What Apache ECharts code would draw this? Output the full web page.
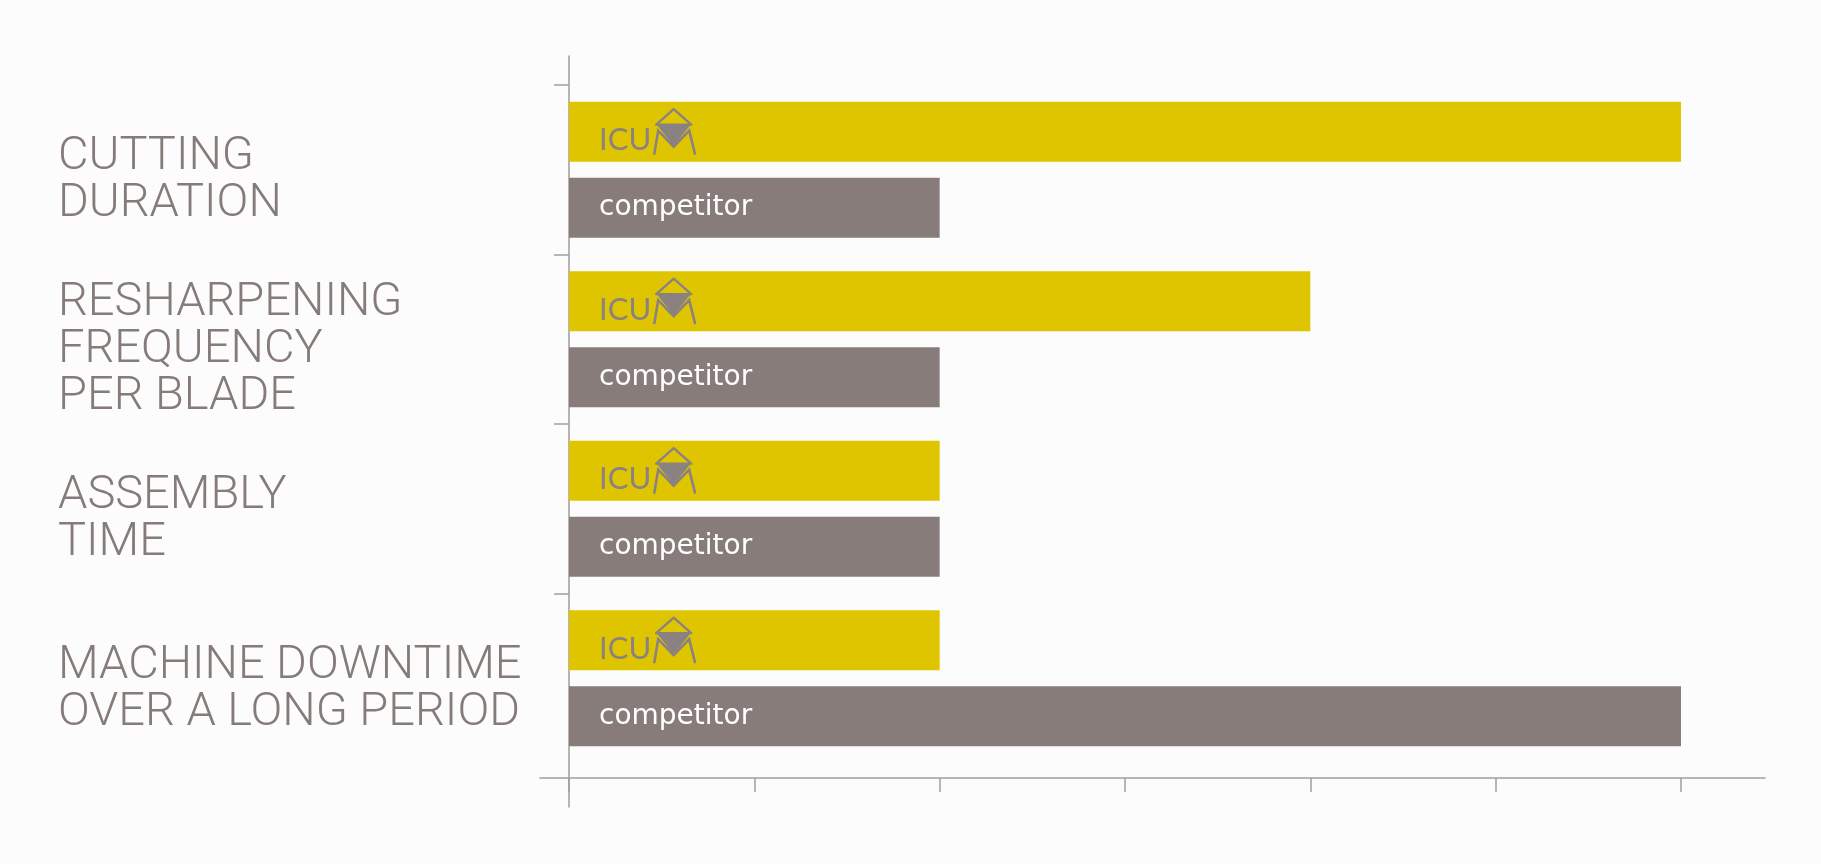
<!DOCTYPE html>
<html>
<head>
<meta charset="utf-8">
<script src="https://cdn.jsdelivr.net/npm/echarts@6/dist/echarts.min.js"></script>
<style>
  html, body { margin: 0; padding: 0; background: #fcfcfc; }
  #chart { width: 1821px; height: 864px; }
</style>
</head>
<body>
<div id="chart"></div>
<script>
// categories, top to bottom
var categories = [
  'CUTTING\nDURATION',
  'RESHARPENING\nFREQUENCY\nPER BLADE',
  'ASSEMBLY\nTIME',
  'MACHINE DOWNTIME\nOVER A LONG PERIOD'
];
var icumaValues = [6, 4, 2, 2];
var competitorValues = [2, 2, 2, 6];
var brandName = 'ICU';
var competitorName = 'competitor';

var grey = '#857b78';
var barGrey = '#877c7a';
var yellow = '#dfc500';
var lineColor = '#a39d9c';

// the M + diamond part of the logo
var logoSvg = "<svg xmlns='http://www.w3.org/2000/svg' width='48' height='48' viewBox='0 0 48 48'>" +
  "<path d='M3 47 L7 23 L22.5 39 L38 23 L44 47' fill='none' stroke='#8a8280' stroke-width='2.6'/>" +
  "<path d='M22.5 1.5 L5 17 L40 17 Z' fill='none' stroke='#8a8280' stroke-width='2.4' stroke-linejoin='round'/>" +
  "<path d='M5.5 17 L39.5 17 L22.5 38 Z' fill='#8a8280'/>" +
  "</svg>";
var logoUri = 'data:image/svg+xml;charset=utf-8,' + encodeURIComponent(logoSvg);

var chart = echarts.init(document.getElementById('chart'));
chart.setOption({
  backgroundColor: '#fcfcfc',
  animation: false,
  grid: [
    { left: 569, top: 85, width: 1112, height: 678 },   // bars
    { left: 540, top: 56, width: 1225, height: 722 },   // long x axis line
    { left: 569, top: 56, width: 1, height: 751 },       // long y axis line + ticks
    { left: 569, top: 96, width: 1112, height: 678 }    // category labels, sit a bit lower
  ],
  xAxis: [
    {
      gridIndex: 0, type: 'value', min: 0, max: 6, interval: 1, offset: 15,
      axisLine: { show: false },
      axisTick: { show: true, length: 14, lineStyle: { color: lineColor, width: 1.5 } },
      axisLabel: { show: false },
      splitLine: { show: false }
    },
    {
      gridIndex: 1, type: 'value', min: 0, max: 1,
      axisLine: { show: true, lineStyle: { color: lineColor, width: 1.5 } },
      axisTick: { show: false }, axisLabel: { show: false }, splitLine: { show: false }
    },
    { gridIndex: 2, type: 'value', min: 0, max: 1, show: false },
    { gridIndex: 3, type: 'value', min: 0, max: 1, show: false }
  ],
  yAxis: [
    {
      gridIndex: 0, type: 'category', data: categories, inverse: true,
      axisLine: { show: false }, axisTick: { show: false }, axisLabel: { show: false }
    },
    { gridIndex: 1, type: 'value', show: false },
    {
      gridIndex: 2, type: 'value', inverse: true,
      min: -29 / 169.5, max: 722 / 169.5,
      axisLine: { show: true, lineStyle: { color: lineColor, width: 1.5 } },
      axisTick: { show: true, length: 15, customValues: [0, 1, 2, 3], lineStyle: { color: lineColor, width: 1.5 } },
      axisLabel: { show: false },
      splitLine: { show: false }
    },
    {
      gridIndex: 3, type: 'category', data: categories, inverse: true,
      axisLine: { show: false },
      axisTick: { show: false },
      axisLabel: {
        interval: 0, margin: 511, align: 'left', fontFamily: 'Roboto', fontWeight: 300,
        fontSize: 47, lineHeight: 47, color: grey
      }
    }
  ],
  series: [
    {
      name: 'ICUMA', type: 'bar', xAxisIndex: 0, yAxisIndex: 0,
      data: icumaValues, barWidth: 60, barGap: '27%',
      itemStyle: { color: yellow },
      label: {
        show: true, position: 'insideLeft', distance: 30,
        formatter: '{t|' + brandName + '}{m|}',
        rich: {
          t: { fontFamily: 'Lato', fontWeight: 400, fontSize: 31, color: '#8a8280', verticalAlign: 'bottom', lineHeight: 34 },
          m: { width: 48, height: 48, verticalAlign: 'bottom', backgroundColor: { image: logoUri } }
        }
      }
    },
    {
      name: 'competitor', type: 'bar', xAxisIndex: 0, yAxisIndex: 0,
      data: competitorValues, barWidth: 60,
      itemStyle: { color: barGrey },
      label: {
        show: true, position: 'insideLeft', distance: 30,
        formatter: competitorName,
        fontFamily: 'DejaVu Sans', fontSize: 28, color: '#ffffff'
      }
    }
  ]
});
</script>
</body>
</html>
